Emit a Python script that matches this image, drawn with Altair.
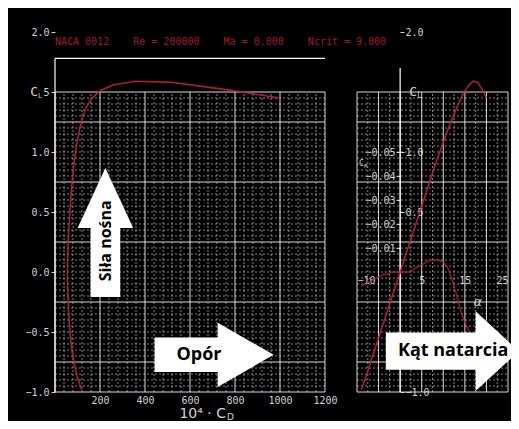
import altair as alt
import pandas as pd

# ---------------- data ----------------
alpha = [-9, -8, -7, -6, -5, -4, -3, -2, -1, 0,
         1, 2, 3, 4, 5, 6, 7, 8, 9, 10,
         11, 12, 13, 14, 15, 16, 17, 18, 19, 20]
cl = [-0.98, -0.88, -0.77, -0.66, -0.55, -0.44, -0.33, -0.22, -0.11, 0.0,
      0.11, 0.22, 0.33, 0.44, 0.55, 0.66, 0.77, 0.88, 0.98, 1.08,
      1.18, 1.27, 1.36, 1.44, 1.51, 1.56, 1.59, 1.58, 1.52, 1.45]
cd_1e4 = [118, 100, 86, 76, 69, 64, 60, 58, 56, 55,
          56, 58, 60, 64, 68, 72, 77, 83, 90, 98,
          108, 120, 136, 160, 200, 260, 360, 520, 760, 1000]
cm = [0.006, 0.005, 0.004, 0.003, 0.002, 0.001, 0.001, 0.0, 0.0, 0.0,
      0.0, 0.0, -0.001, -0.002, -0.003, -0.004, -0.005, -0.005, -0.005, -0.004,
      -0.002, 0.003, 0.009, 0.016, 0.021, 0.025, 0.027, 0.028, 0.024, 0.020]

cd_ticks = [200, 400, 600, 800, 1000, 1200]
cl_ticks = [-1.0, -0.5, 0.0, 0.5, 1.0, 1.5, 2.0]
alpha_ticks = [-10, -5, 5, 10, 15, 20, 25]
right_cl_ticks = [-1.0, 0.5, 1.0, 2.0]
cm_ticks = [-0.05, -0.04, -0.03, -0.02, -0.01]

cd_grid = list(range(0, 1201, 40))
cd_major = [0, 200, 400, 600, 800, 1000, 1200]
cl_grid = [round(-1.0 + 0.05 * i, 2) for i in range(51)]
cl_major = [-1.0, -0.75, -0.25, 0.25, 0.75, 1.25, 1.5]
alpha_grid = [-10 + 2.5 * i for i in range(15)]
alpha_major = [-10, -5, 0, 5, 10, 15, 20, 25]

NB = "\u00a0"
title_parts = ["NACA 0012", "Re = 200000", "Ma = 0.000", "Ncrit = 9.000"]
title_text = (NB * 4).join(p.replace(" ", NB) for p in title_parts)
label_lift = "Siła nośna"
label_drag = "Opór"
label_aoa = "Kąt natarcia"

# annotation anchors (data units)
frame_top_cl = 1.78
alpha_axis_top_cl = 1.70
lift_arrow = (224, 0.33)
lift_text = (227, 0.26)
drag_arrow = (707, -0.69)
drag_text = (640, -0.69)
aoa_arrow = (12.1, -0.66)
aoa_text = (12.3, -0.66)

# ---------------- styles ----------------
RED = "#b8223f"
LBL = "#d2d2d2"
MONO = "DejaVu Sans Mono"
SANS = "Open Sans"

X_CD = alt.Scale(domain=[0, 1200], range=[0, 270], nice=False, zero=False)
X_AL = alt.Scale(domain=[-10, 25], range=[302, 453], nice=False, zero=False)
Y_CL = alt.Scale(domain=[-1.0, 2.0], nice=False, zero=False)
Y_CM = alt.Scale(domain=[-0.10, 0.05], reverse=True, nice=False, zero=False)

one = pd.DataFrame({"k": [0]})
minor_style = dict(color="#bdbdbd", strokeDash=[2, 2], strokeWidth=1, opacity=0.7)
major_style = dict(color="#f0f0f0", strokeWidth=1, opacity=0.9)


def vrules(vals, xs, y0, y1, **style):
    return alt.Chart(pd.DataFrame({"v": vals})).mark_rule(**style).encode(
        x=alt.X("v:Q", scale=xs, axis=None),
        y=alt.YDatum(y0, scale=Y_CL, axis=None),
        y2=alt.Y2Datum(y1),
    )


def hrules(vals, xs, x0, x1, **style):
    return alt.Chart(pd.DataFrame({"v": vals})).mark_rule(**style).encode(
        y=alt.Y("v:Q", scale=Y_CL, axis=None),
        x=alt.XDatum(x0, scale=xs, axis=None),
        x2=alt.X2Datum(x1),
    )


def txt(xs, ys, xv, yv, text, **style):
    return alt.Chart(one).mark_text(text=text, **style).encode(
        x=alt.XDatum(xv, scale=xs, axis=None),
        y=alt.YDatum(yv, scale=ys, axis=None),
    )


def arrow(xs, xv, yv, path, size):
    return alt.Chart(one).mark_point(
        shape=path, filled=True, size=size, color="white", opacity=1, strokeWidth=0
    ).encode(
        x=alt.XDatum(xv, scale=xs, axis=None),
        y=alt.YDatum(yv, scale=Y_CL, axis=None),
    )


up_path = "M0,-1 L0.43,-0.07 L0.23,-0.07 L0.23,1 L-0.23,1 L-0.23,-0.07 L-0.43,-0.07 Z"
drag_path = "M1,0 L0.06,-0.54 L0.06,-0.29 L-1,-0.29 L-1,0.29 L0.06,0.29 L0.06,0.54 Z"
aoa_path = "M1,0 L0.35,-0.6 L0.35,-0.28 L-1,-0.28 L-1,0.28 L0.35,0.28 L0.35,0.6 Z"

polar_df = pd.DataFrame({"i": range(len(alpha)), "alpha": alpha, "cl": cl,
                         "cd": cd_1e4, "cm": cm})

axis_font = dict(labelFont=MONO, labelFontSize=10, labelColor=LBL, grid=False,
                 domain=False, title=None)

# ---------------- left panel: CL vs 10^4 CD ----------------
cd_minor = [v for v in cd_grid if v not in cd_major]
cl_minor = [v for v in cl_grid if v not in cl_major]

left_bg = alt.layer(
    vrules(cd_minor, X_CD, -1.0, 1.5, **minor_style),
    hrules(cl_minor, X_CD, 0, 1200, **minor_style),
    vrules(cd_major, X_CD, -1.0, 1.5, **major_style),
    hrules(cl_major, X_CD, 0, 1200, **major_style),
    vrules([0], X_CD, -1.0, frame_top_cl, color="white", strokeWidth=1.2),
    hrules([frame_top_cl], X_CD, 0, 1200, color="white", strokeWidth=1.2),
)

polar = alt.Chart(polar_df).mark_line(color=RED, strokeWidth=1.6, opacity=0.9).encode(
    x=alt.X("cd:Q", scale=X_CD, axis=alt.Axis(
        orient="bottom", values=cd_ticks, format="d", tickSize=0, labelPadding=3,
        labelFlush=False, **axis_font)),
    y=alt.Y("cl:Q", scale=Y_CL, axis=alt.Axis(
        orient="left", values=cl_ticks, tickSize=4, tickColor=LBL, labelPadding=2,
        labelFlush=False,
        labelExpr="datum.value == 1.5 ? '5' : format(datum.value, '.1f')",
        **axis_font)),
    order="i:Q",
)

left_notes = alt.layer(
    txt(X_CD, Y_CL, 0, 1.917, title_text, color="#a5192f", font=MONO, fontSize=10,
        align="left", baseline="middle"),
    txt(X_CD, Y_CL, 0, 1.5, "C", color=LBL, font=MONO, fontSize=13, align="right",
        baseline="middle", dx=-17),
    txt(X_CD, Y_CL, 0, 1.5, "L", color=LBL, font=MONO, fontSize=7, align="left",
        baseline="middle", dx=-17, dy=4),
    txt(X_CD, Y_CL, 760, -1.0, "10⁴ · C", color=LBL, font="DejaVu Sans", fontSize=14,
        align="right", baseline="middle", dy=22),
    txt(X_CD, Y_CL, 760, -1.0, "D", color=LBL, font="DejaVu Sans", fontSize=9,
        align="left", baseline="middle", dx=1, dy=25),
    arrow(X_CD, lift_arrow[0], lift_arrow[1], up_path, 16641),
    txt(X_CD, Y_CL, lift_text[0], lift_text[1], label_lift, color="black", font=SANS,
        fontSize=16, fontWeight="bold", angle=270, align="center", baseline="middle"),
    arrow(X_CD, drag_arrow[0], drag_arrow[1], drag_path, 14161),
    txt(X_CD, Y_CL, drag_text[0], drag_text[1], label_drag, color="black", font=SANS,
        fontSize=18, fontWeight="bold", align="center", baseline="middle"),
)

# ---------------- right panel: CL and Cm vs alpha ----------------
al_minor = [v for v in alpha_grid if v not in alpha_major]

right_bg = alt.layer(
    vrules(al_minor, X_AL, -1.0, 1.5, **minor_style),
    hrules(cl_minor, X_AL, -10, 25, **minor_style),
    vrules(alpha_major, X_AL, -1.0, 1.5, **major_style),
    hrules(cl_major, X_AL, -10, 25, **major_style),
    vrules([0], X_AL, -1.0, alpha_axis_top_cl, color="white", strokeWidth=1.2),
)

cl_line = alt.Chart(polar_df).mark_line(color=RED, strokeWidth=1.6, opacity=0.9).encode(
    x=alt.X("alpha:Q", scale=X_AL, axis=alt.Axis(
        orient="bottom", offset=-120, values=alpha_ticks, format="d", tickSize=0,
        labelPadding=3, labelFlush=True, **axis_font)),
    y=alt.Y("cl:Q", scale=Y_CL, axis=alt.Axis(
        orient="right", offset=-108, values=right_cl_ticks, format=".1f", tickSize=4,
        tickColor=LBL, labelPadding=1, labelFlush=False, **axis_font)),
    order="i:Q",
)

cm_line = alt.Chart(polar_df).mark_line(color=RED, strokeWidth=1.4, opacity=0.8).encode(
    x=alt.X("alpha:Q", scale=X_AL, axis=None),
    y=alt.Y("cm:Q", scale=Y_CM, axis=alt.Axis(
        orient="left", offset=-345, values=cm_ticks, format=".2f", tickSize=4,
        tickColor=LBL, labelPadding=1, labelFlush=False, **axis_font)),
    order="i:Q",
)

right_notes = alt.layer(
    txt(X_AL, Y_CL, 0, 1.5, "C", color=LBL, font=MONO, fontSize=13, align="left",
        baseline="middle", dx=9),
    txt(X_AL, Y_CL, 0, 1.5, "L", color=LBL, font=MONO, fontSize=8, align="left",
        baseline="middle", dx=17, dy=4),
    txt(X_AL, Y_CL, -9.0, 0.9, "C", color=LBL, font=MONO, fontSize=8, align="center",
        baseline="middle"),
    txt(X_AL, Y_CL, -9.0, 0.9, "M", color=LBL, font=MONO, fontSize=5, align="left",
        baseline="middle", dx=3, dy=2),
    txt(X_AL, Y_CL, 18.0, -0.25, "α", color=LBL, font="DejaVu Sans", fontSize=13,
        fontStyle="italic", align="center", baseline="middle"),
    arrow(X_AL, aoa_arrow[0], aoa_arrow[1], aoa_path, 17689),
    txt(X_AL, Y_CL, aoa_text[0], aoa_text[1], label_aoa, color="black", font=SANS,
        fontSize=18, fontWeight="bold", align="center", baseline="middle"),
)

chart = alt.layer(
    left_bg, polar, left_notes, right_bg, cl_line, cm_line, right_notes
).resolve_scale(
    x="independent", y="independent"
).properties(
    width=453,
    height=360,
    background="black",
    padding={"left": 47, "top": 24, "right": 3, "bottom": 29},
    autosize=alt.AutoSizeParams(type="none"),
).configure_view(stroke=None)

chart.save("out.html", embed_options={"renderer": "svg", "actions": False})
